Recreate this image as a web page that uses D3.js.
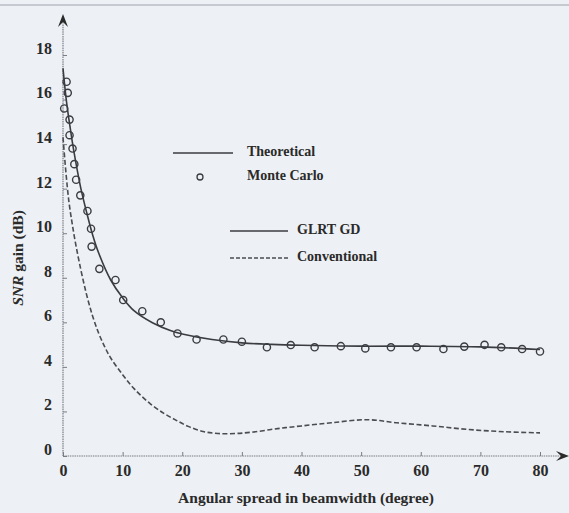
<!DOCTYPE html>
<html>
<head>
<meta charset="utf-8">
<script src="https://cdn.jsdelivr.net/npm/d3@7"></script>
<style>
  body { margin: 0; background: #edf0f4; }
  text { font-family: "Liberation Serif", "Times New Roman", serif; font-weight: bold; fill: #2a2a2a; }
</style>
</head>
<body>
<div id="chart"></div>
<script>
// Theoretical curve (solid)
var theoX = [0, 0.5, 1, 1.5, 2, 3, 4, 5, 6, 8, 10, 12, 15, 18, 20, 25, 30, 35, 40, 50, 60, 70, 80];
var theoY = [17.4, 16.1, 15.1, 14.2, 13.4, 12.0, 10.9, 9.9, 9.1, 7.9, 7.1, 6.5, 5.98, 5.63, 5.48, 5.23, 5.08, 5.01, 4.97, 4.93, 4.93, 4.9, 4.78];

// Monte Carlo points (circles)
var mcX = [0.6, 0.8, 0.2, 1.1, 1.1, 1.6, 1.9, 2.2, 2.9, 4.1, 4.7, 4.8, 6.1, 8.8, 10.1, 13.3, 16.4, 19.2, 22.4,
           26.9, 30.0, 34.2, 38.2, 42.2, 46.6, 50.7, 55.0, 59.3, 63.8, 67.3, 70.7, 73.5, 77.0, 80.0];
var mcY = [16.8, 16.3, 15.6, 15.1, 14.4, 13.8, 13.1, 12.4, 11.7, 11.0, 10.2, 9.4, 8.4, 7.9, 7.0, 6.5, 6.0, 5.5, 5.23,
           5.23, 5.13, 4.88, 4.98, 4.88, 4.93, 4.83, 4.88, 4.88, 4.8, 4.91, 4.99, 4.88, 4.8, 4.69];

// Conventional curve (dashed)
var convX = [0, 0.5, 1, 1.5, 2, 3, 4, 5, 6, 7, 8, 10, 12, 14.6, 17, 19, 21, 23.5, 26, 29, 32, 36, 40, 45, 51, 56, 62, 68, 74, 80];
var convY = [14.3, 12.7, 11.4, 10.5, 9.7, 8.35, 7.2, 6.25, 5.5, 4.9, 4.4, 3.65, 3.0, 2.35, 1.9, 1.6, 1.33, 1.1, 1.01, 1.01, 1.08, 1.23, 1.35, 1.49, 1.63, 1.49, 1.35, 1.19, 1.09, 1.04];

var xTicks = [0, 10, 20, 30, 40, 50, 60, 70, 80];
var yTicks = [0, 2, 4, 6, 8, 10, 12, 14, 16, 18];

var width = 569, height = 513;
var x = d3.scaleLinear().domain([0, 80]).range([63, 540]);
var y = d3.scaleLinear().domain([0, 18]).range([456, 55]);

var svg = d3.select("#chart").append("svg")
    .attr("width", width)
    .attr("height", height);

svg.append("rect").attr("width", width).attr("height", height).attr("fill", "#edf0f4");
// page rule at top of scan
svg.append("line").attr("x1", 0).attr("x2", width).attr("y1", 5).attr("y2", 5)
    .style("stroke", "#b8bcc4").style("stroke-width", "1.5px");

// axes
var axisColor = "#7a7d84";
svg.append("line").attr("x1", x(0)).attr("x2", 562).attr("y1", y(0)).attr("y2", y(0))
    .style("stroke", axisColor).style("stroke-width", "1.2px").style("stroke-dasharray", "1.5,0.8");
svg.append("line").attr("x1", x(0)).attr("x2", x(0)).attr("y1", y(0)).attr("y2", 20)
    .style("stroke", axisColor).style("stroke-width", "1.2px").style("stroke-dasharray", "1.5,0.8");
// arrow heads
svg.append("path").attr("d", "M" + (x(0) - 5) + ",27 L" + x(0) + ",14 L" + (x(0) + 5) + ",27 L" + x(0) + ",22 Z")
    .attr("fill", "#2a2a2a");
svg.append("path").attr("d", "M556," + (y(0) - 5) + " L569," + y(0) + " L556," + (y(0) + 5) + " L561," + y(0) + " Z")
    .attr("fill", "#2a2a2a");

var xAxis = svg.append("g")
    .attr("transform", "translate(0," + y(0) + ")")
    .call(d3.axisBottom(x).tickValues(xTicks).tickSizeInner(-4).tickSizeOuter(0).tickPadding(9));
var yAxis = svg.append("g")
    .attr("transform", "translate(" + x(0) + ",0)")
    .call(d3.axisLeft(y).tickValues(yTicks).tickSizeInner(-4).tickSizeOuter(0).tickPadding(11));
[xAxis, yAxis].forEach(function(a) {
  a.select(".domain").remove();
  a.selectAll(".tick line").style("stroke", axisColor);
  a.selectAll(".tick text").style("font-size", "16px").style("font-family", "Liberation Serif, serif")
    .style("font-weight", "bold").style("fill", "#2a2a2a");
});
// labels sit a little above their ticks in the original
yAxis.selectAll(".tick text").attr("dy", "-0.1em");

// axis titles
svg.append("text")
    .attr("x", 306).attr("y", 503)
    .attr("text-anchor", "middle")
    .style("font-size", "15.5px")
    .text("Angular spread in beamwidth (degree)");

var ylab = svg.append("text")
    .attr("transform", "translate(23,258) rotate(-90)")
    .attr("text-anchor", "middle")
    .style("font-size", "15.5px");
ylab.append("tspan").style("font-style", "italic").text("SNR");
ylab.append("tspan").text(" gain (dB)");

// curves
var line = d3.line().curve(d3.curveCatmullRom.alpha(0.5))
    .x(function(d) { return x(d[0]); })
    .y(function(d) { return y(d[1]); });

var theo = theoX.map(function(v, i) { return [v, theoY[i]]; });
var conv = convX.map(function(v, i) { return [v, convY[i]]; });
var mc = mcX.map(function(v, i) { return [v, mcY[i]]; });

svg.append("path").datum(conv).attr("d", line)
    .attr("fill", "none").style("stroke", "#4a4c52").style("stroke-width", "1.6px")
    .style("stroke-dasharray", "5,2.5");
svg.append("path").datum(theo).attr("d", line)
    .attr("fill", "none").style("stroke", "#3a3c42").style("stroke-width", "1.6px");

svg.selectAll("circle.mc").data(mc).enter().append("circle")
    .attr("class", "mc")
    .attr("cx", function(d) { return x(d[0]); })
    .attr("cy", function(d) { return y(d[1]); })
    .attr("r", 3.6)
    .attr("fill", "none")
    .style("stroke", "#3a3c42").style("stroke-width", "1.4px");

// Handmade legend
svg.append("line").attr("x1", 173).attr("x2", 233).attr("y1", 153).attr("y2", 153)
    .style("stroke", "#3a3c42").style("stroke-width", "1.6px");
svg.append("circle").attr("cx", 200).attr("cy", 177).attr("r", 3)
    .attr("fill", "none").style("stroke", "#3a3c42").style("stroke-width", "1.3px");
svg.append("line").attr("x1", 230).attr("x2", 288).attr("y1", 231).attr("y2", 231)
    .style("stroke", "#3a3c42").style("stroke-width", "1.6px");
svg.append("line").attr("x1", 230).attr("x2", 288).attr("y1", 258).attr("y2", 258)
    .style("stroke", "#4a4c52").style("stroke-width", "1.4px").style("stroke-dasharray", "4,2");

svg.append("text").attr("x", 247).attr("y", 153).attr("dominant-baseline", "middle")
    .style("font-size", "14px").text("Theoretical");
svg.append("text").attr("x", 247).attr("y", 177).attr("dominant-baseline", "middle")
    .style("font-size", "14px").text("Monte Carlo");
svg.append("text").attr("x", 297).attr("y", 231).attr("dominant-baseline", "middle")
    .style("font-size", "14px").text("GLRT GD");
svg.append("text").attr("x", 297).attr("y", 258).attr("dominant-baseline", "middle")
    .style("font-size", "14px").text("Conventional");
</script>
</body>
</html>
